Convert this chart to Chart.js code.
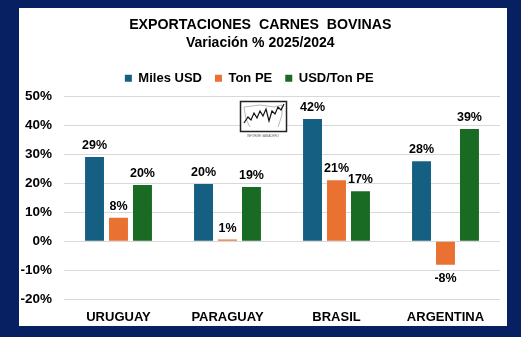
<!DOCTYPE html>
<html>
<head>
<meta charset="utf-8">
<script src="https://cdn.jsdelivr.net/npm/chart.js@4"></script>
<style>
  html, body { margin: 0; padding: 0; background: #062062; width: 521px; height: 337px; overflow: hidden; }
  #panel { position: absolute; left: 19px; top: 8px; width: 488px; height: 318px; background: #ffffff; }
  canvas { display: block; }
</style>
</head>
<body>
<div id="panel"><canvas id="c" width="488" height="318"></canvas></div>
<script>
const categories = ["URUGUAY", "PARAGUAY", "BRASIL", "ARGENTINA"];
const seriesNames = ["Miles USD", "Ton PE", "USD/Ton PE"];
const milesUSD = [29.1, 19.8, 42.2, 27.6];
const tonPE = [8.1, 0.6, 21.1, -8.1];
const usdPorTon = [19.4, 18.7, 17.3, 38.7];
const valueLabels = [
  ["29%", "20%", "42%", "28%"],
  ["8%", "1%", "21%", "-8%"],
  ["20%", "19%", "17%", "39%"]
];
const yTicks = [-20, -10, 0, 10, 20, 30, 40, 50];
const colors = ["#156082", "#E97132", "#196B24"];
const FONT = "'Liberation Sans', Arial, sans-serif";

const labelPlugin = {
  id: 'valueLabels',
  afterDatasetsDraw(chart) {
    const ctx = chart.ctx;
    ctx.save();
    ctx.font = "bold 12.5px " + FONT;
    ctx.fillStyle = "#000";
    ctx.textAlign = "center";
    chart.data.datasets.forEach((ds, di) => {
      const meta = chart.getDatasetMeta(di);
      meta.data.forEach((bar, i) => {
        const v = ds.data[i];
        const txt = valueLabels[di][i];
        if (v >= 0) {
          ctx.textBaseline = "bottom";
          ctx.fillText(txt, bar.x, bar.y - 5);
        } else {
          ctx.textBaseline = "top";
          ctx.fillText(txt, bar.x, bar.y + 8);
        }
      });
    });
    ctx.restore();
  }
};

const legendTweak = {
  id: 'legendTweak',
  afterInit(chart) {
    const lg = chart.legend;
    if (!lg) return;
    const fit = lg.fit.bind(lg);
    lg.fit = function () { fit(); this.height += 1.5; };
    const draw = lg.draw.bind(lg);
    lg.draw = function () {
      const ctx = this.ctx;
      ctx.save();
      ctx.translate(-11, 0);
      draw();
      ctx.restore();
    };
  }
};

const logoPlugin = {
  id: 'logo',
  afterDraw(chart) {
    const ctx = chart.ctx;
    ctx.save();
    const x = 221, y = 93, w = 46, h = 30;
    ctx.fillStyle = "#fff";
    ctx.fillRect(x, y, w, h);
    ctx.strokeStyle = "#222";
    ctx.lineWidth = 1.5;
    ctx.strokeRect(x + 0.5, y + 0.5, w, h);
    ctx.strokeStyle = "#999";
    ctx.lineWidth = 0.7;
    ctx.beginPath();
    ctx.moveTo(x + 4, y + 6); ctx.lineTo(x + 20, y + 4); ctx.lineTo(x + 34, y + 6); ctx.lineTo(x + 42, y + 4);
    ctx.lineTo(x + 42, y + 14); ctx.lineTo(x + 38, y + 26);
    ctx.moveTo(x + 4, y + 6); ctx.lineTo(x + 6, y + 18); ctx.lineTo(x + 10, y + 26);
    ctx.stroke();
    ctx.strokeStyle = "#111";
    ctx.lineWidth = 1.2;
    ctx.beginPath();
    const pts = [[4,22],[8,16],[11,19],[14,12],[17,17],[20,10],[23,15],[26,8],[29,20],[32,10],[35,13],[38,6],[41,9],[44,3]];
    pts.forEach((p, k) => { if (k === 0) ctx.moveTo(x + p[0], y + p[1]); else ctx.lineTo(x + p[0], y + p[1]); });
    ctx.stroke();
    ctx.fillStyle = "#666";
    ctx.font = "3px " + FONT;
    ctx.textAlign = "center";
    ctx.textBaseline = "middle";
    ctx.fillText("INFORME GANADERO", x + w / 2, y + h + 5);
    ctx.restore();
  }
};

new Chart(document.getElementById('c'), {
  type: 'bar',
  data: {
    labels: categories,
    datasets: [
      { label: seriesNames[0], data: milesUSD, backgroundColor: colors[0] },
      { label: seriesNames[1], data: tonPE, backgroundColor: colors[1] },
      { label: seriesNames[2], data: usdPorTon, backgroundColor: colors[2] }
    ]
  },
  options: {
    responsive: false,
    animation: false,
    devicePixelRatio: 1,
    categoryPercentage: 0.66,
    barPercentage: 0.79,
    layout: { padding: { left: 1.5, right: 7, top: 0, bottom: 0 } },
    plugins: {
      title: {
        display: true,
        text: "EXPORTACIONES  CARNES  BOVINAS",
        color: "#000",
        font: { family: FONT, size: 14.2, weight: 'bold' },
        padding: { top: 9, bottom: 1 }
      },
      subtitle: {
        display: true,
        text: "Variación % 2025/2024",
        color: "#000",
        font: { family: FONT, size: 14, weight: 'bold' },
        padding: { top: 0, bottom: 7 }
      },
      legend: {
        display: true,
        position: 'top',
        labels: {
          color: "#000",
          font: { family: FONT, size: 13, weight: 'bold' },
          boxWidth: 7,
          boxHeight: 7,
          padding: 13
        }
      },
      tooltip: { enabled: false }
    },
    scales: {
      x: {
        grid: { display: false, drawTicks: false },
        border: { display: false },
        afterFit(axis) { axis.height = 26.7; },
        ticks: {
          color: "#000",
          font: { family: FONT, size: 13, weight: 'bold' },
          padding: 10
        }
      },
      y: {
        min: -20,
        max: 50,
        afterBuildTicks(axis) { axis.ticks = yTicks.map(v => ({ value: v })); },
        afterFit(axis) { axis.width = 43.5; },
        grid: { color: "#d9d9d9", lineWidth: 1, drawTicks: false },
        border: { display: false },
        ticks: {
          color: "#000",
          font: { family: FONT, size: 13.5, weight: 'bold' },
          padding: 12,
          callback: v => v + "%"
        }
      }
    }
  },
  plugins: [labelPlugin, legendTweak, logoPlugin]
});
</script>
</body>
</html>
